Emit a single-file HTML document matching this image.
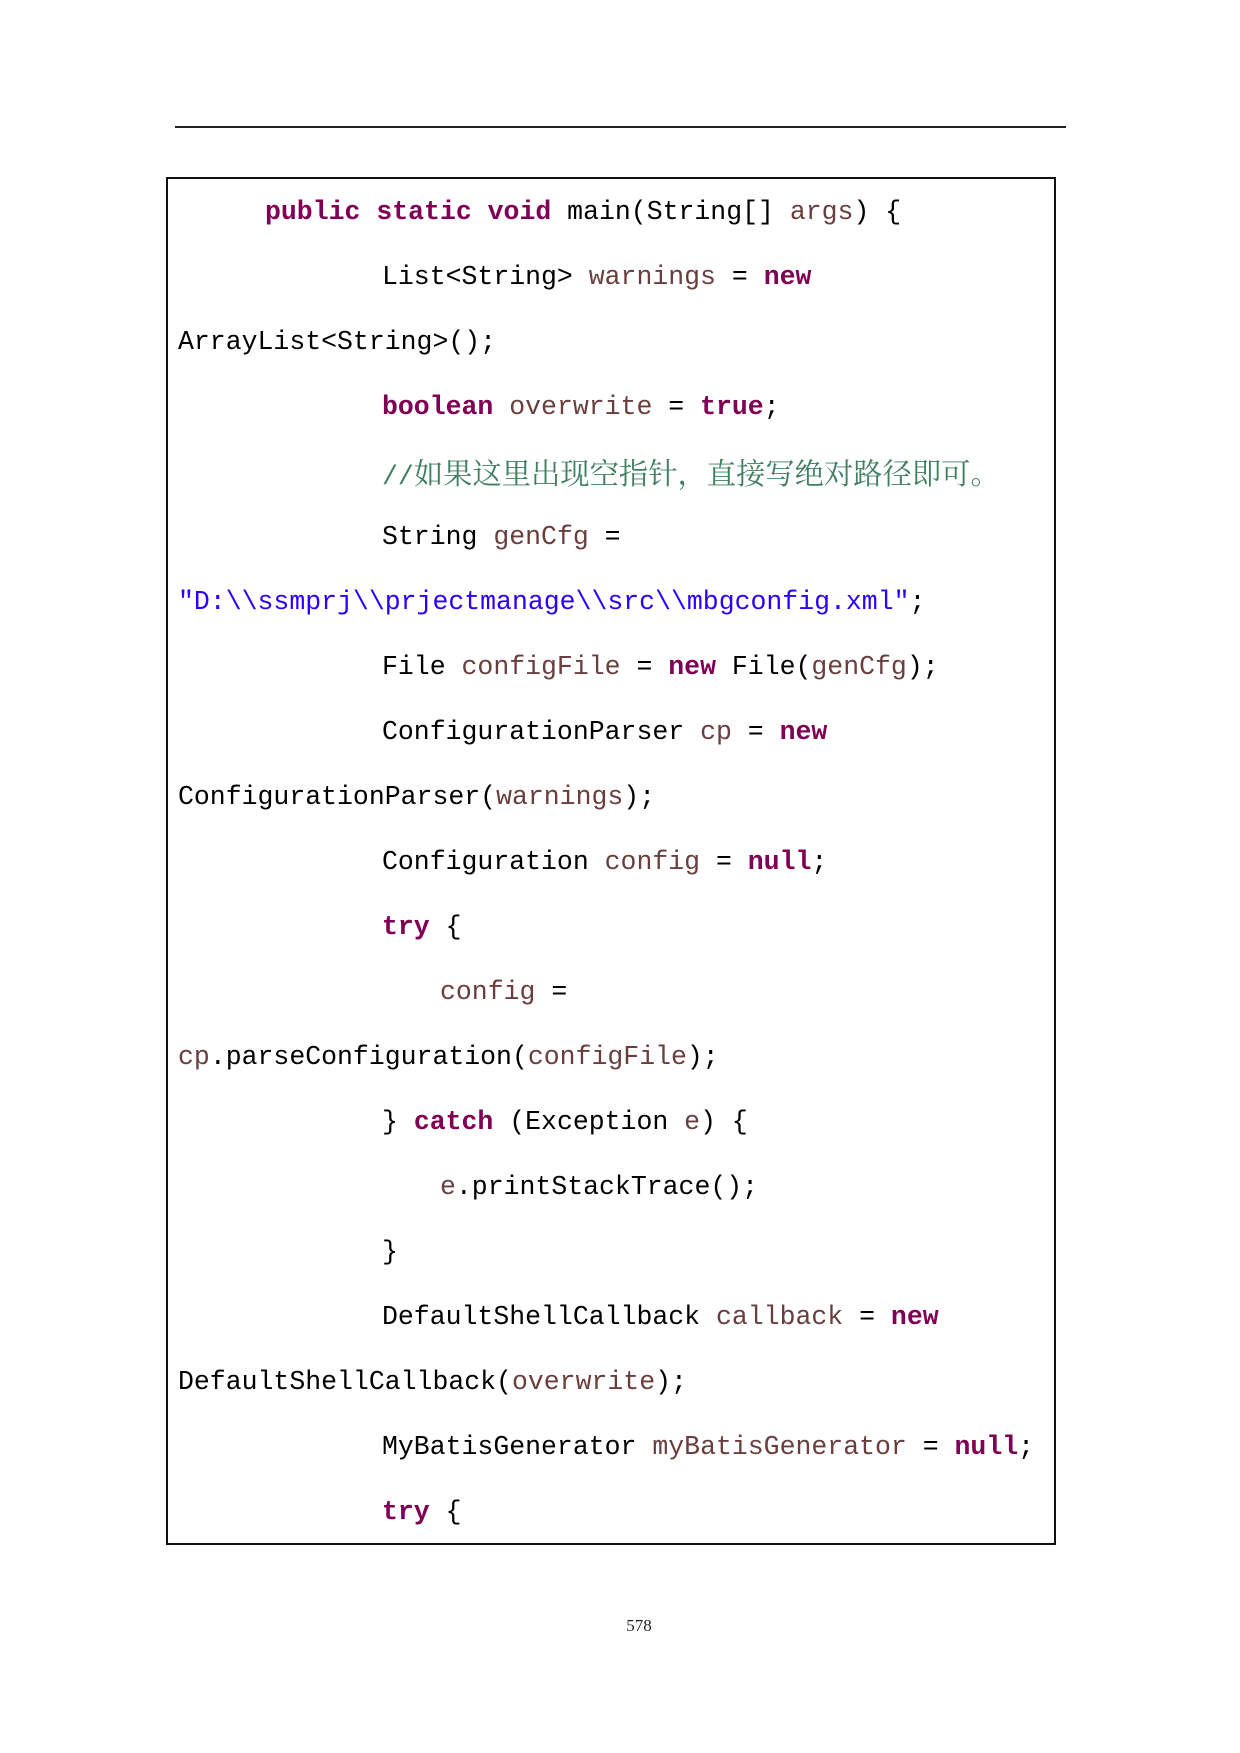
<!DOCTYPE html>
<html><head><meta charset="utf-8"><style>
body{margin:0;background:#fff;}
.page{position:relative;width:1240px;height:1753px;background:#fff;overflow:hidden;}
.hr{position:absolute;left:175px;top:126px;width:891px;height:2px;background:#222;}
.box{position:absolute;left:166px;top:177px;width:886px;height:1364px;border:2px solid #111;}
.code{position:absolute;left:0;top:180px;width:1240px;font-family:"Liberation Mono","Noto Sans CJK SC",monospace;font-size:26.5px;color:#000;}
.l{position:absolute;height:65px;line-height:65px;white-space:pre;}
.k{color:#7f0055;font-weight:bold;}
.v{color:#6a3e3e;}
.s{color:#2a00ff;}
.c{color:#3f7f5f;}
.cj{font-family:"Noto Serif CJK SC",serif;font-size:29.3px;}
.pn{position:absolute;left:0;width:1240px;top:1616px;text-align:center;font-family:"Liberation Serif",serif;font-size:17px;color:#222;padding-left:38px;box-sizing:border-box;}
</style></head><body><div class="page">
<div class="hr"></div>
<div class="box"></div>
<div class="code">
<div class="l" style="left:265px;top:0"><span class="k">public</span> <span class="k">static</span> <span class="k">void</span> main(String[] <span class="v">args</span>) {</div>
<div class="l" style="left:382px;top:65px">List&lt;String&gt; <span class="v">warnings</span> = <span class="k">new</span></div>
<div class="l" style="left:178px;top:130px">ArrayList&lt;String&gt;();</div>
<div class="l" style="left:382px;top:195px"><span class="k">boolean</span> <span class="v">overwrite</span> = <span class="k">true</span>;</div>
<div class="l" style="left:382px;top:260px"><span class="c">//<span class="cj">如果这里出现空指针，直接写绝对路径即可。</span></span></div>
<div class="l" style="left:382px;top:325px">String <span class="v">genCfg</span> =</div>
<div class="l" style="left:178px;top:390px"><span class="s">"D:\\ssmprj\\prjectmanage\\src\\mbgconfig.xml"</span>;</div>
<div class="l" style="left:382px;top:455px">File <span class="v">configFile</span> = <span class="k">new</span> File(<span class="v">genCfg</span>);</div>
<div class="l" style="left:382px;top:520px">ConfigurationParser <span class="v">cp</span> = <span class="k">new</span></div>
<div class="l" style="left:178px;top:585px">ConfigurationParser(<span class="v">warnings</span>);</div>
<div class="l" style="left:382px;top:650px">Configuration <span class="v">config</span> = <span class="k">null</span>;</div>
<div class="l" style="left:382px;top:715px"><span class="k">try</span> {</div>
<div class="l" style="left:440px;top:780px"><span class="v">config</span> =</div>
<div class="l" style="left:178px;top:845px"><span class="v">cp</span>.parseConfiguration(<span class="v">configFile</span>);</div>
<div class="l" style="left:382px;top:910px">} <span class="k">catch</span> (Exception <span class="v">e</span>) {</div>
<div class="l" style="left:440px;top:975px"><span class="v">e</span>.printStackTrace();</div>
<div class="l" style="left:382px;top:1040px">}</div>
<div class="l" style="left:382px;top:1105px">DefaultShellCallback <span class="v">callback</span> = <span class="k">new</span></div>
<div class="l" style="left:178px;top:1170px">DefaultShellCallback(<span class="v">overwrite</span>);</div>
<div class="l" style="left:382px;top:1235px">MyBatisGenerator <span class="v">myBatisGenerator</span> = <span class="k">null</span>;</div>
<div class="l" style="left:382px;top:1300px"><span class="k">try</span> {</div>
</div>
<div class="pn">578</div>
</div></body></html>
